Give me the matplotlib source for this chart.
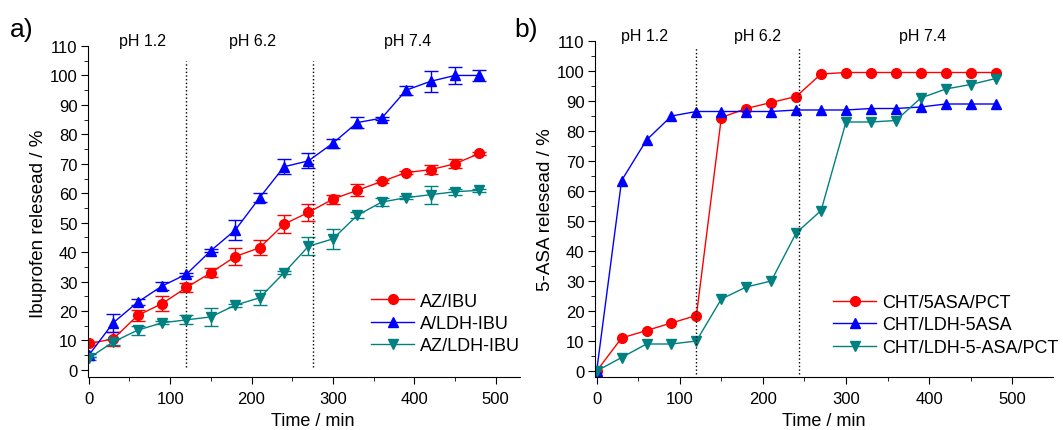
import numpy as np
import matplotlib.pyplot as plt
from matplotlib.lines import Line2D
from matplotlib.ticker import MultipleLocator

plt.rcParams['font.family'] = ['Liberation Sans', 'DejaVu Sans']

# time points (min)
t = np.arange(0, 481, 30)

# panel a) ibuprofen release
az_ibu = [9, 10.5, 18.5, 22.5, 28, 33, 38.5, 41.5, 49.5, 53.5, 58, 61, 64, 67, 68, 70, 73.5]
az_ibu_err = [0.5, 2.5, 2, 2.5, 1.5, 1.5, 3, 2.5, 3, 3, 1.5, 2, 0.5, 0.5, 1.5, 1.5, 0.5]
a_ldh_ibu = [5, 16, 23, 28.5, 32.5, 40.5, 47.5, 58.5, 69, 71, 77, 84, 85.5, 95, 98, 100, 100]
a_ldh_ibu_err = [0.5, 3, 1, 1.5, 0.5, 0.5, 3.5, 1.5, 2.5, 2.5, 1.5, 2, 0.5, 1.5, 3.5, 3, 2]
az_ldh_ibu = [4, 9.5, 13.5, 16, 17, 18, 22, 24.5, 33, 42, 44.5, 52.5, 57, 58.5, 59.5, 60.5, 61]
az_ldh_ibu_err = [0.5, 1, 1.5, 0.5, 1.5, 3, 0.5, 2.5, 0.5, 3, 3.5, 1, 1.5, 0.5, 3, 1, 0.5]
labels_a = ['AZ/IBU', 'A/LDH-IBU', 'AZ/LDH-IBU']

# panel b) 5-ASA release
cht_5asa_pct = [0, 11, 13.5, 16, 18.5, 84.5, 87.5, 89.5, 91.5, 99, 99.5, 99.5, 99.5, 99.5, 99.5, 99.5, 99.5]
cht_ldh_5asa = [0, 63.5, 77, 85, 86.5, 86.5, 86.5, 86.5, 87, 87, 87, 87.5, 87.5, 88, 89, 89, 89]
cht_ldh_5asa_pct = [0, 4.5, 9, 9, 10, 24, 28, 30, 46, 53.5, 83, 83, 83.5, 91, 94, 95.5, 97.5]
labels_b = ['CHT/5ASA/PCT', 'CHT/LDH-5ASA', 'CHT/LDH-5-ASA/PCT']

ph_labels = ['pH 1.2', 'pH 6.2', 'pH 7.4']

red, blue, teal = '#ff0000', '#0000ff', '#008080'

fig = plt.figure(figsize=(10.63, 4.31), dpi=100)
ax1 = fig.add_axes([88/1063, 53/431, 432/1063, 331/431])
ax2 = fig.add_axes([595/1063, 53/431, 458/1063, 336/431])


def style(ax, xlim, ylim, ylabel):
    ax.set_xlim(*xlim)
    ax.set_ylim(*ylim)
    ax.spines['top'].set_visible(False)
    ax.spines['right'].set_visible(False)
    ax.xaxis.set_major_locator(MultipleLocator(100))
    ax.xaxis.set_minor_locator(MultipleLocator(50))
    ax.yaxis.set_major_locator(MultipleLocator(10))
    ax.yaxis.set_minor_locator(MultipleLocator(5))
    ax.tick_params(which='major', length=5, labelsize=12, pad=2.5)
    ax.tick_params(axis='x', which='major', pad=5)
    ax.tick_params(which='minor', length=3)
    ax.set_xticks([0, 100, 200, 300, 400, 500])
    ax.set_yticks(np.arange(0, 111, 10))
    ax.set_xlabel('Time / min', fontsize=13, labelpad=4.5)
    ax.set_ylabel(ylabel, fontsize=13.5, labelpad=2)


def add_legend(ax, labels, anchor):
    handles = [Line2D([], [], color=c, marker=m, lw=1, ms=7) for c, m in zip([red, blue, teal], 'o^v')]
    ax.legend(handles, labels, loc='upper left', bbox_to_anchor=anchor, frameon=False,
              fontsize=13, handlelength=2.4, handletextpad=0.3, labelspacing=0.3,
              borderpad=0, borderaxespad=0)


kw = dict(lw=1, ms=7, capsize=5, elinewidth=1, capthick=1)
ax1.errorbar(t, az_ibu, yerr=az_ibu_err, color=red, marker='o', **kw)
ax1.errorbar(t, a_ldh_ibu, yerr=a_ldh_ibu_err, color=blue, marker='^', **kw)
ax1.errorbar(t, az_ldh_ibu, yerr=az_ldh_ibu_err, color=teal, marker='v', **kw)
for xv in [120, 275]:
    ax1.plot([xv, xv], [1, 105], ls=':', color='k', lw=1)
for xv, s in zip([66, 201, 392], ph_labels):
    ax1.text(xv, 112, s, ha='center', va='center', fontsize=11.5)
style(ax1, (-1, 530), (-2.4, 110), 'Ibuprofen relesead / %')
ax1.xaxis.label.set_x(0.52)
ax1.yaxis.label.set_y(0.465)
add_legend(ax1, labels_a, (0.655, 0.255))

ax2.plot(t, cht_5asa_pct, color=red, marker='o', lw=1, ms=7)
ax2.plot(t, cht_ldh_5asa, color=blue, marker='^', lw=1, ms=7)
ax2.plot(t, cht_ldh_5asa_pct, color=teal, marker='v', lw=1, ms=7)
for xv in [120, 243]:
    ax2.plot([xv, xv], [-1, 108], ls=':', color='k', lw=1)
for xv, s in zip([58, 193, 392], ph_labels):
    ax2.text(xv, 112, s, ha='center', va='center', fontsize=11.5)
style(ax2, (-2, 549), (-2, 110), '5-ASA relesead / %')
add_legend(ax2, labels_b, (0.52, 0.247))

fig.text(10/1063, 1 - 30/431, 'a)', fontsize=19, va='center')
fig.text(514/1063, 1 - 30/431, 'b)', fontsize=19, va='center')

fig.savefig('out.png', dpi=100)
